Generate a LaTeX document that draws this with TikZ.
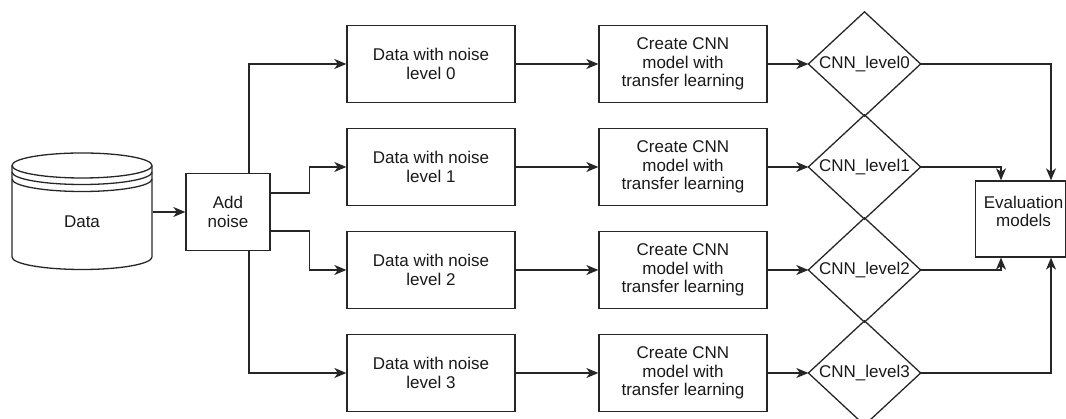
\documentclass[tikz,border=0pt]{standalone}
\usepackage{fontspec}
\setmainfont{Liberation Sans}
\usetikzlibrary{arrows.meta,calc}
\begin{document}
\begin{tikzpicture}[x=1pt,y=1pt,
  line width=1.3pt,
  every node/.style={font=\fontsize{17}{18.5}\selectfont, text=black!90, align=center, inner sep=0pt},
  box/.style={draw=black!85, minimum width=168pt, minimum height=77pt},
  smallbox/.style={draw=black!85, minimum width=84pt, minimum height=77pt},
  evalbox/.style={draw=black!85, minimum width=89.5pt, minimum height=76pt},
  diabox/.style={draw=none, minimum width=111pt, minimum height=103pt},
  conn/.style={draw=black!85, -{Stealth[length=12pt,width=10pt,inset=3.5pt]}},
  plain/.style={draw=black!85}
]
\useasboundingbox (0,0) rectangle (1066,419);

% Data cylinder
\node[draw=none, minimum width=140pt, minimum height=117pt,
  label={[yshift=-9.5pt]center:Data}] (data) at (82,207) {};
\draw[plain] (12,253.5) -- (12,162) arc[start angle=180,end angle=360,x radius=70,y radius=12.5]
  -- (152,253.5) arc[start angle=0,end angle=180,x radius=70,y radius=12.5] -- cycle;
\draw[plain] (12,253.5) arc[start angle=180,end angle=360,x radius=70,y radius=12.5];
\draw[plain] (12,247) arc[start angle=180,end angle=360,x radius=70,y radius=12.5];
\draw[plain] (12,240) arc[start angle=180,end angle=360,x radius=70,y radius=12.5];

% Add noise
\node[smallbox] (add) at (228,207) {Add\\noise};

% Data with noise boxes
\node[box] (b0) at (431,355) {Data with noise\\level 0};
\node[box] (b1) at (431,252) {Data with noise\\level 1};
\node[box] (b2) at (431,149) {Data with noise\\level 2};
\node[box] (b3) at (431,46) {Data with noise\\level 3};

% CNN boxes
\node[box] (m0) at (683,355) {Create CNN\\model with\\transfer learning};
\node[box] (m1) at (683,252) {Create CNN\\model with\\transfer learning};
\node[box] (m2) at (683,149) {Create CNN\\model with\\transfer learning};
\node[box] (m3) at (683,46) {Create CNN\\model with\\transfer learning};

% Diamonds
\node[diabox] (c0) at (864.5,355) {CNN\_level0};
\node[diabox] (c1) at (864.5,252) {CNN\_level1};
\node[diabox] (c2) at (864.5,149) {CNN\_level2};
\node[diabox] (c3) at (864.5,46) {CNN\_level3};
\foreach \c in {c0,c1,c2,c3}{
  \draw[plain, line join=miter] (\c.west) -- (\c.north) -- (\c.east) -- (\c.south) -- cycle;
}

% Evaluation
\node[evalbox, label={[xshift=3pt,yshift=7.5pt]center:Evaluation\\models}] (eval) at (1020.55,200) {};

% Connectors
\draw[conn] (data.east) -- (add.west);
\draw[conn] ([xshift=21pt]add.north) |- (b0.west);
\draw[conn] ([yshift=19pt]add.east) -- ++(39,0) |- (b1.west);
\draw[conn] ([yshift=-19pt]add.east) -- ++(39,0) |- (b2.west);
\draw[conn] ([xshift=21pt]add.south) |- (b3.west);

\foreach \i in {0,1,2,3}{
  \draw[conn] (b\i.east) -- (m\i.west);
  \draw[conn] (m\i.east) -- (c\i.west);
}

\draw[conn] (c0.east) -| ([xshift=30.45pt]eval.north);
\draw[conn] (c1.east) -| ([xshift=-19.55pt]eval.north);
\draw[conn] (c2.east) -| ([xshift=-19.55pt]eval.south);
\draw[conn] (c3.east) -| ([xshift=30.45pt]eval.south);
\end{tikzpicture}
\end{document}
